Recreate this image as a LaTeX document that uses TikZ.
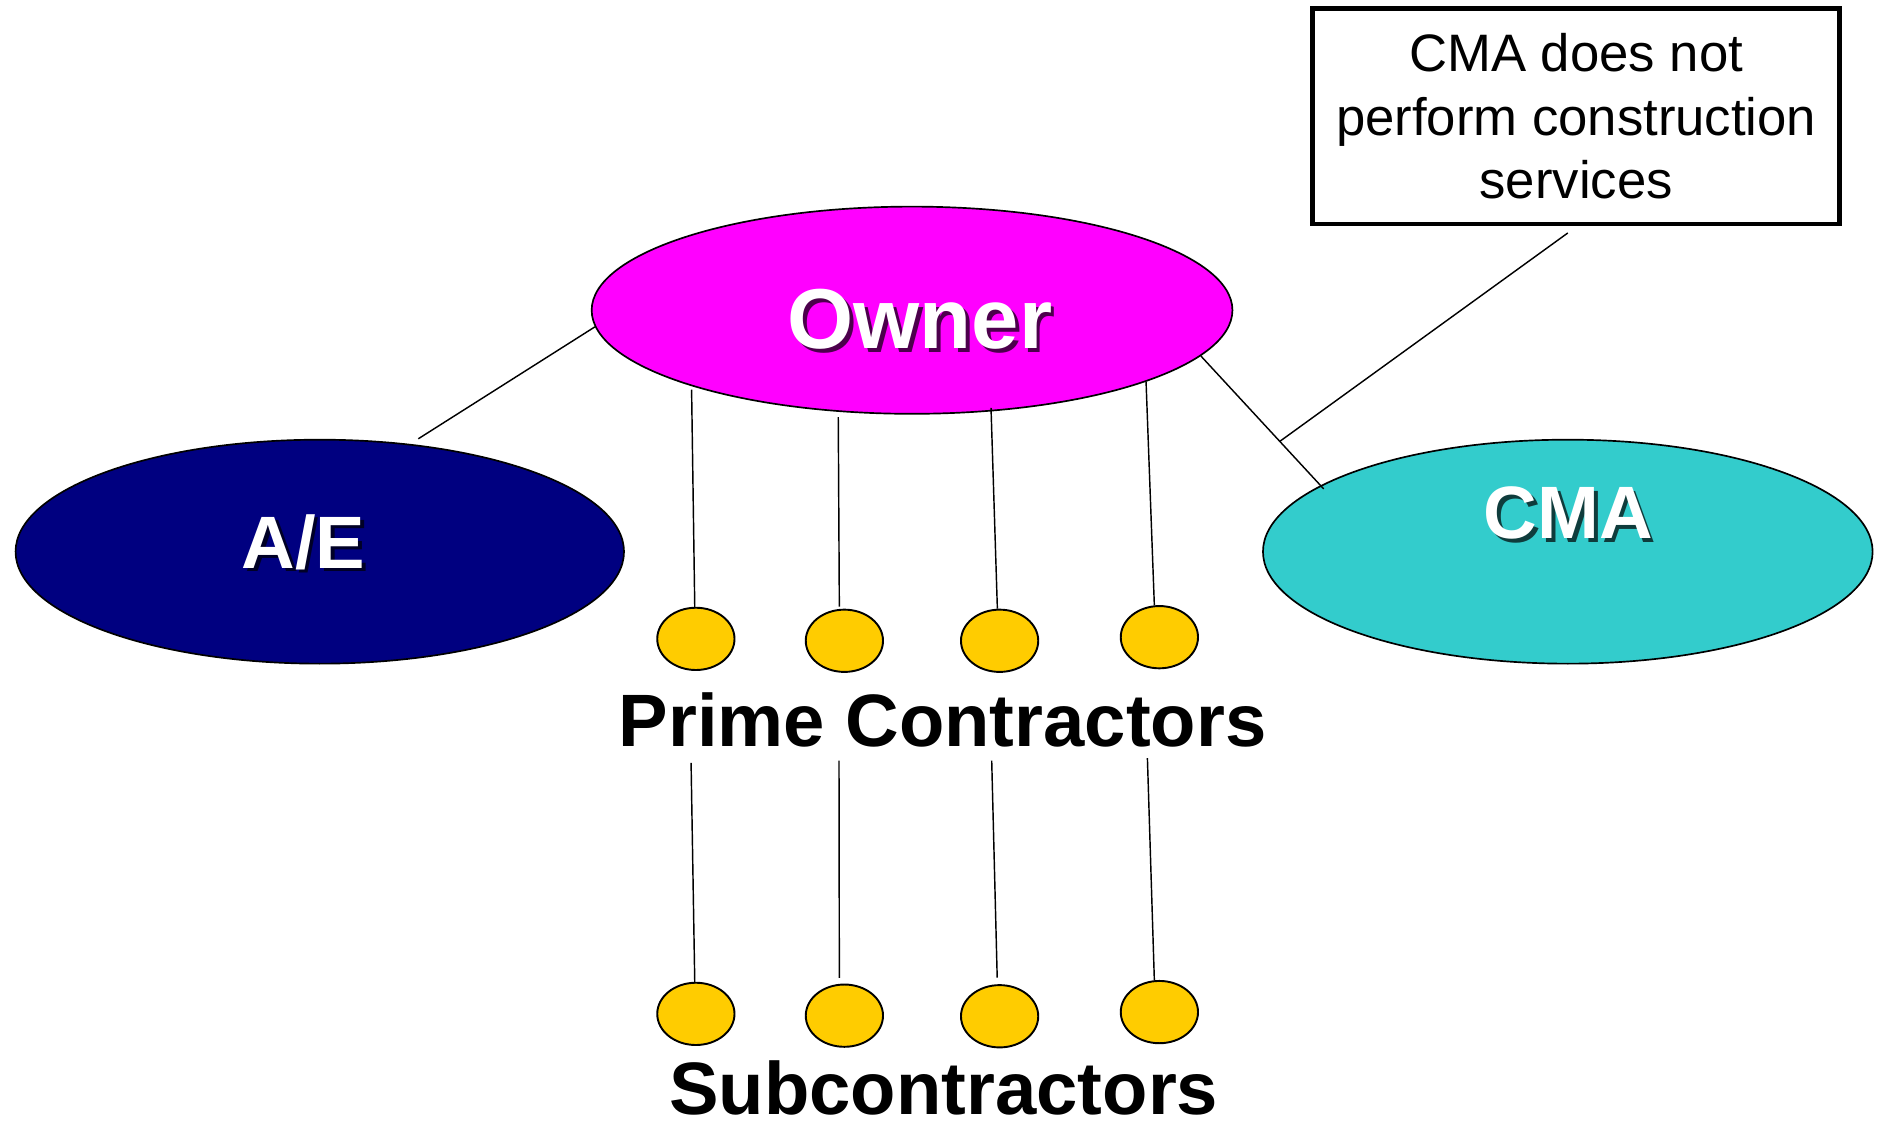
\documentclass[tikz,border=0pt]{standalone}
\usepackage{fontspec}
\setmainfont{Liberation Sans}
\usetikzlibrary{shapes.geometric}
\definecolor{ownermagenta}{HTML}{FF00FF}
\definecolor{aenavy}{HTML}{000080}
\definecolor{cmateal}{HTML}{33CCCC}
\definecolor{contractgold}{HTML}{FFCC00}

\begin{document}
\begin{tikzpicture}[x=1pt,y=-1pt,
  party/.style={ellipse, draw=black, line width=1.4pt, inner sep=0pt},
  firm/.style={ellipse, draw=black, line width=1.6pt, fill=contractgold,
    inner sep=0pt, minimum width=64.5pt, minimum height=52pt},
  link/.style={draw=black, line width=1.2pt},
  bigtxt/.style={inner sep=0pt, anchor=base, font=\bfseries\fontsize{62}{74}\selectfont},
  lbl/.style={bigtxt, text=white},
  lblshadow/.style={bigtxt, text=black, text opacity=0.7, xshift=3pt, yshift=-3pt},
  note/.style={draw=black, line width=4pt, inner sep=0pt, minimum width=440pt,
    minimum height=180pt, align=center, font=\fontsize{44}{53}\selectfont}
]
% canvas
\fill[white] (0,0) rectangle (1568,938);
\useasboundingbox (0,0) rectangle (1568,938);

% main parties
\node[party, fill=ownermagenta, minimum width=535pt, minimum height=173pt] (owner) at (761.5,259) {};
\node[party, fill=aenavy, minimum width=508pt, minimum height=187pt] (ae) at (267,460.6) {};
\node[party, fill=cmateal, minimum width=509pt, minimum height=187pt] (cma) at (1309,460.6) {};

% shadowed labels
\node[lblshadow, font=\bfseries\fontsize{71}{85}\selectfont] (ownershadow) at (768,291) {Owner};
\node[lbl, font=\bfseries\fontsize{71}{85}\selectfont] (ownerlabel) at (768,291) {Owner};
\node[lblshadow] (aeshadow) at (253.5,474.5) {A/E};
\node[lbl] (aelabel) at (253.5,474.5) {A/E};
\node[lblshadow] (cmashadow) at (1309.5,450) {CMA};
\node[lbl] (cmalabel) at (1309.5,450) {CMA};

% prime contractors
\node[firm] (p1) at (581,533.4) {};
\node[firm] (p2) at (705,535) {};
\node[firm] (p3) at (834.6,535) {};
\node[firm] (p4) at (968,532) {};
\node[bigtxt] (primelabel) at (787,623.5) {Prime Contractors};

% subcontractors
\node[firm] (s1) at (581,846.5) {};
\node[firm] (s2) at (705,848) {};
\node[firm] (s3) at (834.6,848.5) {};
\node[firm] (s4) at (968,845) {};
\node[bigtxt] (sublabel) at (788,930.5) {Subcontractors};

% note box
\node[note] (cmanote) at (1316,97) {CMA does not\\perform construction\\services};

% owner relations
\draw[link, shorten >=8pt] (owner.183) -- (ae.50);
\draw[link, shorten >=-4pt] (owner.351) -- coordinate[pos=0.66] (meet) (cma.165);
\draw[link] ([xshift=-7pt,yshift=-5.5pt]cmanote.south) -- (meet);

% owner to prime contractors
\draw[link, shorten <=3pt] (owner.199) -- (p1.92);
\draw[link, shorten <=4.5pt, shorten >=2pt] (owner.234) -- (p2.99);
\draw[link, shorten <=-3pt] (owner.308) -- (p3.94);
\draw[link] (owner.343) -- (p4.99);

% prime contractors to subcontractors
\coordinate (sub1top) at (577,637);
\coordinate (sub2top) at (700.5,635);
\coordinate (sub3top) at (828,635);
\coordinate (sub4top) at (958,633);
\draw[link] (sub1top) -- (s1.92);
\draw[link, shorten >=5pt] (sub2top) -- (s2.99);
\draw[link, shorten >=5.5pt] (sub3top) -- (s3.94);
\draw[link] (sub4top) -- (s4.99);
\end{tikzpicture}
\end{document}
